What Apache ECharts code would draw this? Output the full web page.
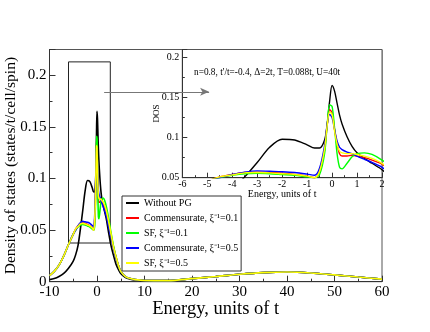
<!DOCTYPE html>
<html>
<head>
<meta charset="utf-8">
<script src="https://cdn.jsdelivr.net/npm/echarts@6/dist/echarts.min.js"></script>
<style>
  html, body { margin: 0; padding: 0; background: #fff; }
  #chart { width: 430px; height: 332px; }
</style>
</head>
<body>
<div id="chart"></div>
<script>
// energy grid (units of t)
const energy = [-10, -9, -8, -7, -6, -5, -4.5, -4, -3.5, -3, -2.5, -2, -1.5, -1, -0.7, -0.5, -0.3, -0.2, -0.1, 0,
  0.1, 0.2, 0.3, 0.4, 0.6, 0.8, 1, 1.3, 1.6, 2, 2.5, 3, 3.5, 4, 4.5, 5, 6, 7, 8, 10,
  15, 20, 25, 30, 35, 40, 45, 50, 55, 60]

// high-energy tail shared by all curves (x = 15 .. 60)
const tail = [0.001, 0.003, 0.005, 0.0072, 0.0088, 0.0094, 0.0085, 0.0066, 0.0045, 0.0025]

const dosNoPG = [0.002, 0.003, 0.005, 0.008, 0.013, 0.020, 0.026, 0.035, 0.051, 0.069, 0.088, 0.098, 0.097, 0.091, 0.087, 0.087, 0.097, 0.115, 0.145, 0.165,
  0.158, 0.143, 0.128, 0.117, 0.101, 0.089, 0.081, 0.074, 0.068, 0.060, 0.046, 0.034, 0.025, 0.017, 0.012, 0.008, 0.004, 0.0025, 0.0017, 0.001].concat(tail)

const dosComm01 = [0.006, 0.010, 0.016, 0.025, 0.036, 0.046, 0.051, 0.054, 0.0565, 0.057, 0.0565, 0.0555, 0.054, 0.052, 0.050, 0.058, 0.085, 0.114, 0.135, 0.131,
  0.110, 0.092, 0.080, 0.077, 0.077, 0.078, 0.077, 0.075, 0.072, 0.067, 0.056, 0.044, 0.033, 0.024, 0.016, 0.010, 0.005, 0.003, 0.002, 0.0012].concat(tail)

const dosSF01 = [0.006, 0.010, 0.016, 0.025, 0.036, 0.046, 0.050, 0.053, 0.055, 0.0555, 0.055, 0.054, 0.053, 0.051, 0.050, 0.054, 0.080, 0.114, 0.141, 0.139,
  0.112, 0.080, 0.063, 0.061, 0.068, 0.076, 0.080, 0.081, 0.079, 0.072, 0.060, 0.046, 0.034, 0.024, 0.016, 0.010, 0.005, 0.003, 0.002, 0.0012].concat(tail)

const dosComm05 = [0.006, 0.010, 0.016, 0.025, 0.036, 0.046, 0.050, 0.054, 0.057, 0.0585, 0.058, 0.0575, 0.0565, 0.0545, 0.053, 0.062, 0.090, 0.116, 0.129, 0.125,
  0.110, 0.096, 0.088, 0.085, 0.082, 0.080, 0.077, 0.073, 0.069, 0.063, 0.052, 0.042, 0.032, 0.023, 0.016, 0.010, 0.005, 0.003, 0.002, 0.0012].concat(tail)

const dosSF05 = [0.006, 0.010, 0.016, 0.025, 0.036, 0.046, 0.051, 0.0535, 0.056, 0.0565, 0.056, 0.055, 0.054, 0.052, 0.050, 0.058, 0.086, 0.114, 0.132, 0.129,
  0.108, 0.092, 0.083, 0.081, 0.080, 0.080, 0.079, 0.077, 0.074, 0.068, 0.057, 0.045, 0.033, 0.024, 0.016, 0.010, 0.005, 0.003, 0.002, 0.0012].concat(tail)

const seriesNames = ['Without PG', 'Commensurate, ξ⁻¹=0.1', 'SF, ξ⁻¹=0.1', 'Commensurate, ξ⁻¹=0.5', 'SF, ξ⁻¹=0.5']
const seriesColors = ['#000000', '#ff0000', '#00ff00', '#0000ff', '#ffff00']
const seriesValues = [dosNoPG, dosComm01, dosSF01, dosComm05, dosSF05]

const paramText = "n=0.8, t'/t=-0.4, Δ=2t, T=0.088t, U=40t"

// zoom box on main plot and arrow towards inset (data coords)
const zoomBox = [[-6, 0.0375], [2.8, 0.213]]
const arrowLine = [[1.5, 0.184], [23.6, 0.184]]

const serif = 'Liberation Serif'
const chart = echarts.init(document.getElementById('chart'))

const pairs = vals => energy.map((e, i) => [e, vals[i]])

const axisCommon = (fontSize, tickLen) => ({
  axisLine: { show: true, onZero: false, lineStyle: { color: '#333', width: 1 } },
  axisTick: { show: true, inside: true, length: tickLen, lineStyle: { color: '#333' } },
  minorTick: { show: true, splitNumber: 2, length: tickLen / 2, lineStyle: { color: '#333' } },
  splitLine: { show: false },
  nameMoveOverlap: false,
  axisLabel: { color: '#000', fontFamily: serif, fontSize: fontSize }
})

const series = []
// main plot
seriesValues.forEach((vals, i) => {
  const s = {
    name: seriesNames[i],
    type: 'line',
    xAxisIndex: 0,
    yAxisIndex: 0,
    data: pairs(vals),
    smooth: 0.3,
    symbol: 'none',
    z: 2,
    lineStyle: { color: seriesColors[i], width: 1.6 },
    itemStyle: { color: seriesColors[i] }
  }
  if (i === 0) {
    s.markArea = {
      silent: true,
      itemStyle: { color: 'rgba(0,0,0,0)', borderColor: '#222', borderWidth: 1 },
      data: [[{ coord: zoomBox[0] }, { coord: zoomBox[1] }]]
    }
    s.markLine = {
      silent: true,
      z: 8,
      symbol: ['none', 'arrow'],
      symbolSize: [6, 9],
      label: { show: false },
      lineStyle: { color: '#777', width: 1, type: 'solid' },
      data: [[{ coord: arrowLine[0] }, { coord: arrowLine[1] }]]
    }
  }
  series.push(s)
})
// inset
seriesValues.forEach((vals, i) => {
  series.push({
    name: seriesNames[i],
    type: 'line',
    xAxisIndex: 1,
    yAxisIndex: 1,
    data: pairs(vals),
    smooth: 0.3,
    symbol: 'none',
    z: 5,
    lineStyle: { color: seriesColors[i], width: 1.4 },
    itemStyle: { color: seriesColors[i] }
  })
})

const option = {
  animation: false,
  backgroundColor: '#fff',
  title: {
    text: paramText,
    left: 189,
    top: 63,
    z: 6,
    textStyle: { fontFamily: serif, fontSize: 9.3, fontWeight: 'normal', color: '#000' }
  },
  legend: {
    data: seriesNames,
    orient: 'vertical',
    left: 122,
    top: 196,
    z: 10,
    backgroundColor: '#fff',
    borderColor: '#333',
    borderWidth: 1,
    borderRadius: 0,
    padding: [1, 3, 2, 4],
    itemGap: 3,
    itemWidth: 13,
    itemHeight: 2,
    icon: 'rect',
    textStyle: { fontFamily: serif, fontSize: 10, color: '#000', lineHeight: 12 }
  },
  grid: [
    { left: 49.5, top: 49.5, width: 332.5, height: 232.2, containLabel: false, outerBoundsMode: 'none',
      show: true, borderColor: '#555', borderWidth: 1, backgroundColor: 'transparent' },
    { left: 182.3, top: 49.5, width: 199.7, height: 128.2, containLabel: false, outerBoundsMode: 'none',
      show: true, borderColor: '#555', borderWidth: 1, backgroundColor: '#fff', z: 3 }
  ],
  xAxis: [
    Object.assign(axisCommon(15, 6), {
      gridIndex: 0, type: 'value', min: -10, max: 60, interval: 10,
      name: 'Energy, units of t', nameLocation: 'middle', nameGap: 18,
      nameTextStyle: { fontFamily: serif, fontSize: 18.5, color: '#000' }
    }),
    Object.assign(axisCommon(10, 5), {
      gridIndex: 1, type: 'value', min: -6, max: 2, interval: 1, z: 4,
      name: 'Energy, units of t', nameLocation: 'middle', nameGap: 12,
      nameTextStyle: { fontFamily: serif, fontSize: 10, color: '#000' }
    })
  ],
  yAxis: [
    Object.assign(axisCommon(15, 6), {
      gridIndex: 0, type: 'value', min: 0, max: 0.225, interval: 0.05,
      name: 'Density of states (states/t/cell/spin)', nameLocation: 'middle', nameGap: 31,
      nameTextStyle: { fontFamily: serif, fontSize: 15.5, color: '#000' }
    }),
    Object.assign(axisCommon(10, 5), {
      gridIndex: 1, type: 'value', min: 0.05, max: 0.21, interval: 0.05, z: 4,
      name: 'DOS', nameLocation: 'middle', nameGap: 21.5,
      nameTextStyle: { fontFamily: serif, fontSize: 9, color: '#000' }
    })
  ],
  series: series
}
option.yAxis[0].axisLabel.showMaxLabel = false
option.yAxis[1].axisLabel.showMaxLabel = false
option.xAxis[0].axisLabel.margin = 3
option.xAxis[1].axisLabel.margin = 2
option.yAxis[0].axisLabel.margin = 3
option.yAxis[1].axisLabel.margin = 3

chart.setOption(option)
</script>
</body>
</html>
